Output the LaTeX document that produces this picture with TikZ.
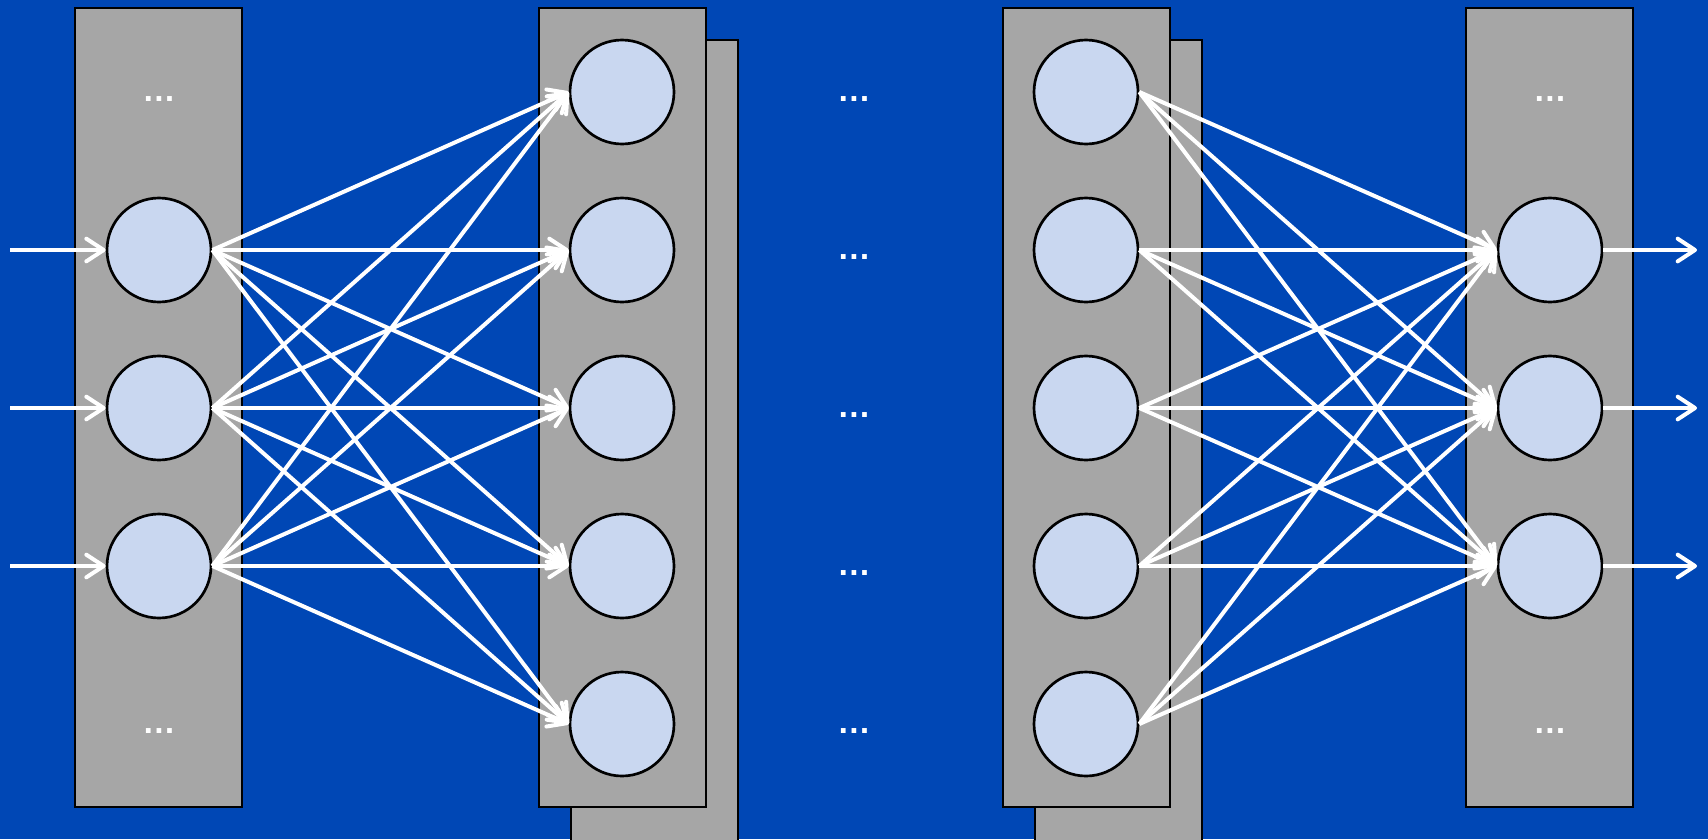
\documentclass[tikz,border=0pt]{standalone}
\usepackage{fontspec}
\setmainfont{Liberation Sans}
\usetikzlibrary{arrows.meta}
\definecolor{bgblue}{RGB}{0,71,181}
\definecolor{panelgray}{RGB}{166,166,166}
\definecolor{neuroncol}{RGB}{201,215,240}
\begin{document}
\begin{tikzpicture}[x=0.75pt,y=-0.75pt,
  panelbox/.style={draw=black, line width=1.5pt, fill=panelgray},
  neuron/.style={circle, draw=black, line width=2pt, fill=neuroncol, minimum size=78pt, inner sep=0pt},
  conn/.style={draw=white, line width=3pt, -{Straight Barb[length=13pt,width=17pt,round]}},
  dotlabel/.style={text=white, font=\fontsize{25}{25}\selectfont\bfseries, anchor=base, inner sep=0pt}]
\useasboundingbox (0,0) rectangle (1708,839);
\clip (0,0) rectangle (1708,839);
\fill[bgblue] (0,0) rectangle (1708,839);
% panels
\draw[panelbox] (75,8) rectangle (242,807);
\draw[panelbox] (571,40) rectangle (738,900);
\draw[panelbox] (539,8) rectangle (706,807);
\draw[panelbox] (1035,40) rectangle (1202,900);
\draw[panelbox] (1003,8) rectangle (1170,807);
\draw[panelbox] (1466,8) rectangle (1633,807);
% neurons
\foreach \r/\y in {2/250,3/408,4/566}{
  \node[neuron] (a\r) at (159,\y) {};
  \node[neuron] (d\r) at (1550,\y) {};
  \coordinate (in\r) at (10,\y);
  \coordinate (out\r) at (1697,\y);
}
\foreach \r/\y in {1/92,2/250,3/408,4/566,5/724}{
  \node[neuron] (b\r) at (622,\y) {};
  \node[neuron] (c\r) at (1086,\y) {};
  \node[dotlabel] (m\r) at (854,\y+9) {…};
}
\node[dotlabel] (adt) at (159,101) {…};
\node[dotlabel] (adb) at (159,733) {…};
\node[dotlabel] (ddt) at (1550,101) {…};
\node[dotlabel] (ddb) at (1550,733) {…};
% connections
\foreach \i in {2,3,4}{
  \draw[conn] (in\i) -- (a\i.west);
  \draw[conn] (d\i.east) -- (out\i);
  \foreach \j in {1,2,3,4,5}{
    \draw[conn] (a\i.east) -- (b\j.west);
    \draw[conn] (c\j.east) -- (d\i.west);
  }
}
\end{tikzpicture}
\end{document}
